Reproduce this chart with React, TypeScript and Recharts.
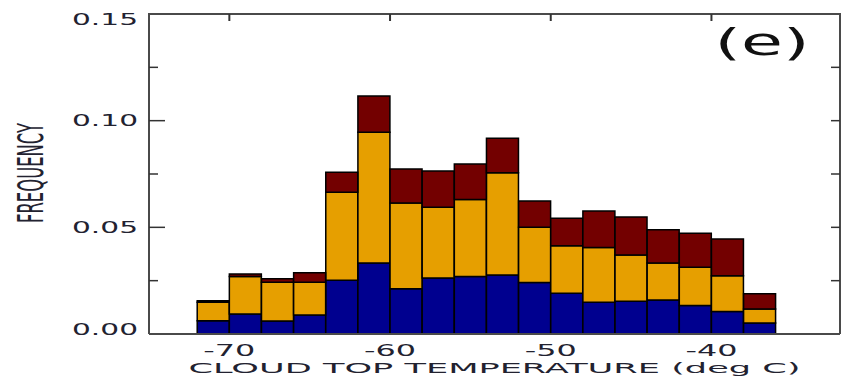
import React from 'react';
import { BarChart, Bar, XAxis, YAxis } from 'recharts';

// Bin centres (deg C), 2-degree bins from -72 to -36
const binCenters = [-71, -69, -67, -65, -63, -61, -59, -57, -55, -53, -51, -49, -47, -45, -43, -41, -39, -37];
// Stacked frequency segments (bottom -> top)
const blueSeg = [0.0062, 0.0094, 0.0061, 0.0089, 0.0252, 0.0333, 0.0212, 0.0263, 0.0269, 0.0277, 0.0241, 0.0191, 0.0149, 0.0153, 0.0159, 0.0134, 0.0105, 0.0052];
const orangeSeg = [0.0087, 0.0176, 0.0181, 0.0153, 0.0412, 0.0613, 0.0402, 0.0331, 0.0362, 0.0479, 0.0259, 0.0223, 0.0256, 0.0217, 0.0174, 0.0179, 0.0168, 0.0065];
const redSeg = [0.0007, 0.0011, 0.0017, 0.0045, 0.0094, 0.0170, 0.0160, 0.0170, 0.0166, 0.0161, 0.0124, 0.0128, 0.0172, 0.0179, 0.0156, 0.0159, 0.0172, 0.0072];

const xTicks = [-70, -60, -50, -40];
const yTicks = [0, 0.025, 0.05, 0.075, 0.1, 0.125, 0.15];
const xDomain = [-75, -32];
const yDomain = [0, 0.15];
const xTitle = 'CLOUD TOP TEMPERATURE (deg C)';
const yTitle = 'FREQUENCY';
const panelTag = '(e)';

const data = binCenters.map((t, i) => ({ t, blue: blueSeg[i], orange: orangeSeg[i], red: redSeg[i] }));

const W = 842;
const H = 378;
const LEFT = 149;
const RIGHT_EDGE = 840;
const TOP = 14;
const BOTTOM_EDGE = 334;
const FRAME = '#4a4a4a';
const TICK = '#333';
const TEXT = '#222230';
const FONT = 'DejaVu Sans';

const isMajor = (v: number) => Math.abs(v / 0.05 - Math.round(v / 0.05)) < 1e-6;

const YTick = (props: any) => {
  const { x, y, payload } = props;
  const v = payload.value as number;
  const major = isMajor(v);
  const inner = v > yDomain[0] && v < yDomain[1];
  const cy = Math.min(Math.max(y, TOP + 5), BOTTOM_EDGE - 5);
  return (
    <g>
      {inner && <line x1={x} x2={x + (major ? 16 : 9)} y1={y} y2={y} stroke={TICK} strokeWidth={1.5} />}
      {inner && <line x1={RIGHT_EDGE - 9} x2={RIGHT_EDGE} y1={y} y2={y} stroke={TICK} strokeWidth={1.5} />}
      {major && (
        <text x={x - 11} y={cy} dy="0.36em" textAnchor="end" fontFamily={FONT} fontSize={15.5} fill={TEXT}
          textLength={66} lengthAdjust="spacingAndGlyphs">
          {v.toFixed(2)}
        </text>
      )}
    </g>
  );
};

const XTick = (props: any) => {
  const { x, y, payload } = props;
  return (
    <g>
      <line x1={x} x2={x} y1={TOP} y2={TOP + 7} stroke={TICK} strokeWidth={2} />
      <text x={x} y={y + 22} textAnchor="middle" fontFamily={FONT} fontSize={15.5} fill={TEXT}
        textLength={52} lengthAdjust="spacingAndGlyphs">
        {String(payload.value)}
      </text>
    </g>
  );
};

const XTitleAndFrame = () => (
  <g>
    <line x1={LEFT - 1} x2={RIGHT_EDGE + 1} y1={TOP} y2={TOP} stroke={FRAME} strokeWidth={2} />
    <line x1={RIGHT_EDGE} x2={RIGHT_EDGE} y1={TOP} y2={BOTTOM_EDGE} stroke={FRAME} strokeWidth={2} />
    <text x={(LEFT + RIGHT_EDGE) / 2} y={373} textAnchor="middle" fontFamily={FONT} fontSize={14} fill={TEXT}
      textLength={612} lengthAdjust="spacingAndGlyphs">
      {xTitle}
    </text>
    <text x={762} y={55} textAnchor="middle" fontFamily={FONT} fontSize={38} fill="#111"
      textLength={95} lengthAdjust="spacingAndGlyphs">
      {panelTag}
    </text>
  </g>
);

const YTitle = () => (
  <text x={0} y={0} transform="translate(43,173) rotate(-90)" textAnchor="middle" fontFamily={FONT} fontSize={35}
    fill={TEXT} textLength={100} lengthAdjust="spacingAndGlyphs">
    {yTitle}
  </text>
);

export default function App() {
  return (
    <div style={{ position: 'absolute', left: 0, top: 0, width: W, height: H, background: '#fff' }}>
      <BarChart
        width={W}
        height={H}
        data={data}
        margin={{ top: TOP, right: W - RIGHT_EDGE, bottom: 0, left: LEFT - 60 }}
        barCategoryGap={0}
        barGap={0}
      >
        <XAxis
          dataKey="t"
          type="number"
          domain={xDomain}
          ticks={xTicks}
          allowDataOverflow
          height={H - BOTTOM_EDGE}
          tickSize={0}
          tickMargin={0}
          tickLine={false}
          axisLine={{ stroke: FRAME, strokeWidth: 2 }}
          tick={(p: any) => <XTick {...p} />}
          label={<XTitleAndFrame />}
        />
        <YAxis
          type="number"
          domain={yDomain}
          ticks={yTicks}
          allowDataOverflow
          width={60}
          tickSize={0}
          tickMargin={0}
          tickLine={false}
          interval={0}
          axisLine={{ stroke: FRAME, strokeWidth: 2 }}
          tick={(p: any) => <YTick {...p} />}
          label={<YTitle />}
        />
        <Bar dataKey="blue" stackId="s" fill="#00008f" stroke="#000" strokeWidth={1.5} isAnimationActive={false} />
        <Bar dataKey="orange" stackId="s" fill="#e69f00" stroke="#000" strokeWidth={1.5} isAnimationActive={false} />
        <Bar dataKey="red" stackId="s" fill="#730000" stroke="#000" strokeWidth={1.5} isAnimationActive={false} />
      </BarChart>
    </div>
  );
}
